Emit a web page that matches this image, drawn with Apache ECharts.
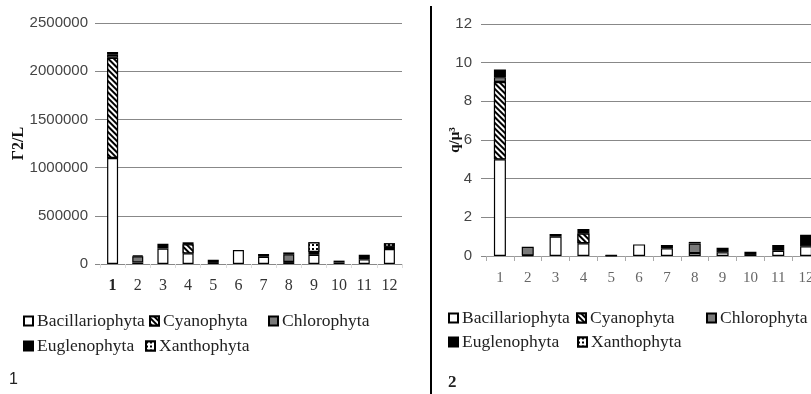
<!DOCTYPE html>
<html><head><meta charset="utf-8">
<script src="https://cdn.jsdelivr.net/npm/echarts@6/dist/echarts.min.js"></script>
<style>html,body{margin:0;padding:0;background:#fff}#c{width:811px;height:394px}</style>
</head><body><div id="c"></div>
<script>
const categories = ['1','2','3','4','5','6','7','8','9','10','11','12'];
const seriesNames = ['Bacillariophyta','Cyanophyta','Chlorophyta','Euglenophyta','Xanthophyta'];

// Chart 1 (Γ2/L)
const bac1   = [1100000, 15000, 160000, 110000, 20000, 145000, 75000, 20000, 95000, 15000, 50000, 155000];
const cyan1  = [1040000, 0, 0, 95000, 0, 0, 0, 0, 0, 0, 0, 0];
const chlor1 = [30000, 65000, 0, 0, 0, 0, 0, 80000, 0, 0, 0, 0];
const eugl1  = [30000, 10000, 50000, 20000, 25000, 0, 30000, 20000, 30000, 20000, 45000, 25000];
const xan1   = [0, 0, 0, 0, 0, 0, 0, 0, 100000, 0, 0, 35000];

// Chart 2 (q/μ³)
const bac2   = [5.0, 0.03, 1.0, 0.66, 0.02, 0.6, 0.4, 0.15, 0.19, 0.1, 0.27, 0.5];
const cyan2  = [4.0, 0, 0, 0.5, 0, 0, 0, 0, 0, 0, 0, 0];
const chlor2 = [0.25, 0.45, 0, 0, 0, 0, 0, 0.5, 0, 0, 0, 0];
const eugl2  = [0.4, 0, 0.14, 0.24, 0.02, 0, 0.17, 0.08, 0.24, 0.12, 0.3, 0.6];
const xan2   = [0, 0, 0, 0, 0, 0, 0, 0, 0, 0, 0, 0];

const yTicks1 = {min: 0, max: 2500000, interval: 500000};
const yTicks2 = {min: 0, max: 12, interval: 2};

const styles = {
  Bacillariophyta: {color: '#ffffff', borderColor: '#000', borderWidth: 1.2},
  Cyanophyta: {color: '#ffffff', borderColor: '#000', borderWidth: 1.2,
    decal: {symbol: 'rect', color: '#000', backgroundColor: '#fff', dashArrayX: [1, 0], dashArrayY: [2, 2], rotation: Math.PI / 4, symbolSize: 1}},
  Chlorophyta: {color: '#7a7a7a', borderColor: '#000', borderWidth: 1.2},
  Euglenophyta: {color: '#000000', borderColor: '#000', borderWidth: 1.2},
  Xanthophyta: {color: '#ffffff', borderColor: '#000', borderWidth: 1.2,
    decal: {symbol: 'rect', color: '#000', backgroundColor: '#fff', dashArrayX: [[2, 2]], dashArrayY: [2, 2], symbolSize: 1}}
};

const data1 = [bac1, cyan1, chlor1, eugl1, xan1];
const data2 = [bac2, cyan2, chlor2, eugl2, xan2];

function mk(arr) { return arr.map(v => v === 0 ? '-' : v); }

const series = [];
seriesNames.forEach((n, i) => {
  series.push({name: n, type: 'bar', stack: 's1', xAxisIndex: 0, yAxisIndex: 0, barWidth: 11,
    data: mk(data1[i]), itemStyle: styles[n], emphasis: {disabled: true}, animation: false});
});
seriesNames.forEach((n, i) => {
  series.push({name: n, type: 'bar', stack: 's2', xAxisIndex: 1, yAxisIndex: 1, barWidth: 12,
    data: mk(data2[i]), itemStyle: styles[n], emphasis: {disabled: true}, animation: false});
});

const legTxt = {fontFamily: 'Liberation Serif', fontSize: 17.5, color: '#222', padding: [0, 0, 0, -1]};
function leg(name, left, top) {
  return {data: [name], left: left, top: top, icon: 'rect', itemWidth: 9, itemHeight: 9, itemGap: 0,
    padding: 0, selectedMode: false, textStyle: legTxt};
}

const option = {
  backgroundColor: '#fff',
  animation: false,
  title: [
    {text: '1', left: 9, top: 372, textStyle: {fontFamily: 'Liberation Sans', fontSize: 16, fontWeight: 'normal', color: '#222'}, padding: 0},
    {text: '2', left: 448, top: 374, textStyle: {fontFamily: 'Liberation Serif', fontSize: 17, fontWeight: 'bold', color: '#222'}, padding: 0}
  ],
  legend: [
    leg('Bacillariophyta', 23, 312), leg('Cyanophyta', 149, 312), leg('Chlorophyta', 268, 312),
    leg('Euglenophyta', 23, 337), leg('Xanthophyta', 145, 337),
    leg('Bacillariophyta', 448, 309), leg('Cyanophyta', 576, 309), leg('Chlorophyta', 706, 309),
    leg('Euglenophyta', 448, 333), leg('Xanthophyta', 577, 333)
  ],
  grid: [
    {left: 100, width: 302, top: 23, bottom: 130, containLabel: false, outerBoundsMode: 'none'},
    {left: 486, right: -9, top: 24, bottom: 138, containLabel: false, outerBoundsMode: 'none'}
  ],
  xAxis: [
    {type: 'category', gridIndex: 0, data: categories,
      axisLine: {show: false}, axisTick: {show: true, length: 4, lineStyle: {color: '#ddd'}},
      axisLabel: {interval: 0, margin: 14, fontFamily: 'Liberation Serif', fontSize: 16, color: '#333',
        formatter: v => v === '1' ? '{b|1}' : v, rich: {b: {fontWeight: 'bold', fontFamily: 'Liberation Serif', fontSize: 16, color: '#222'}}}},
    {type: 'category', gridIndex: 1, data: categories,
      axisLine: {show: true, lineStyle: {color: '#999', width: 1}}, axisTick: {show: true, length: 5, lineStyle: {color: '#aaa'}},
      axisLabel: {interval: 0, margin: 15, fontFamily: 'Liberation Serif', fontSize: 15, color: '#666'}}
  ],
  yAxis: [
    {type: 'value', gridIndex: 0, min: yTicks1.min, max: yTicks1.max, interval: yTicks1.interval,
      name: 'Γ2/L', nameLocation: 'middle', nameGap: 73, nameRotate: 90, nameMoveOverlap: false,
      nameTextStyle: {fontFamily: 'Liberation Serif', fontSize: 16, fontWeight: 'bold', color: '#111'},
      axisLine: {show: false}, axisTick: {show: true, length: 5, lineStyle: {color: '#888'}},
      splitLine: {lineStyle: {color: '#888', width: 1}},
      axisLabel: {margin: 12, fontFamily: 'Liberation Sans', fontSize: 15, color: '#444', formatter: v => String(v)}},
    {type: 'value', gridIndex: 1, min: yTicks2.min, max: yTicks2.max, interval: yTicks2.interval,
      name: 'q/μ³', nameLocation: 'middle', nameGap: 23, nameRotate: 90, nameMoveOverlap: false,
      nameTextStyle: {fontFamily: 'Liberation Serif', fontSize: 15, fontWeight: 'bold', color: '#111'},
      axisLine: {show: false}, axisTick: {show: true, length: 5, lineStyle: {color: '#888'}},
      splitLine: {lineStyle: {color: '#888', width: 1}},
      axisLabel: {margin: 14, fontFamily: 'Liberation Sans', fontSize: 15, color: '#444'}}
  ],
  graphic: [
    {type: 'line', shape: {x1: 431, y1: 6, x2: 431, y2: 394}, style: {stroke: '#000', lineWidth: 2}, silent: true}
  ],
  series: series
};

const chart = echarts.init(document.getElementById('c'), null, {renderer: 'canvas'});
chart.setOption(option);
</script></body></html>
